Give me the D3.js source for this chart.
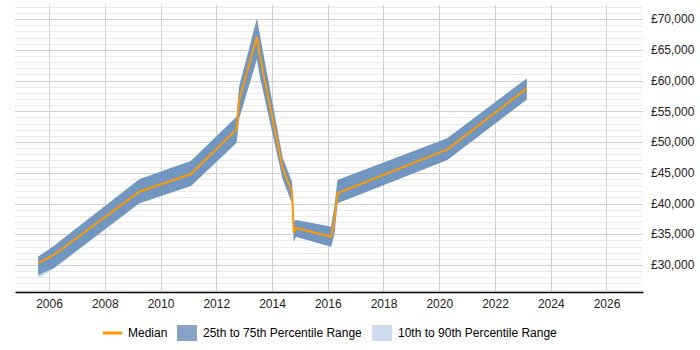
<!DOCTYPE html>
<html>
<head>
<meta charset="utf-8">
<script src="https://cdn.jsdelivr.net/npm/d3@7"></script>
<style>
  body { margin: 0; background: #fff; }
  svg { font-family: "Liberation Sans", Arial, sans-serif; }
</style>
</head>
<body>
<div id="chart"></div>
<script>
// donnees (annee decimale)
const years = [2005.61, 2006.17, 2009.24, 2011.09, 2012.73, 2012.82, 2013.46, 2013.55,
  2014.38, 2014.72, 2014.78, 2014.86, 2016.12, 2016.24, 2016.35, 2020.29, 2023.14];
const p10 = [27830, 29350, 40030, 42850, 49890, 53800, 63500, 61000,
  44000, 40000, 33790, 34600, 32980, 35000, 40030, 47070, 56940];
const p25 = [28370, 29510, 40030, 42850, 49890, 53800, 63500, 61000,
  44000, 40000, 33790, 34600, 32980, 35000, 40030, 47070, 56940];
const median = [30240, 31630, 41920, 44800, 52060, 56830, 67120, 64300,
  45770, 41870, 35200, 36020, 34600, 37320, 41660, 48810, 58730];
const p75 = [31350, 33100, 43940, 46910, 54110, 59000, 70100, 67800,
  47500, 43500, 37040, 37300, 36230, 39500, 43820, 50600, 60360];
const p90 = [31350, 33100, 43940, 46910, 54110, 59000, 70100, 67800,
  47500, 43500, 37040, 37300, 36230, 39500, 43820, 50600, 60360];

const xTicks = [2006, 2008, 2010, 2012, 2014, 2016, 2018, 2020, 2022, 2024, 2026];
const yTicks = [30000, 35000, 40000, 45000, 50000, 55000, 60000, 65000, 70000];
const legendLabels = ["Median", "25th to 75th Percentile Range", "10th to 90th Percentile Range"];

const width = 700, height = 350;
const plot = { left: 15, right: 643, top: 5, bottom: 292 };

const data = years.map((t, i) => ({
  t: t, p10: p10[i], p25: p25[i], med: median[i], p75: p75[i], p90: p90[i]
}));

const svg = d3.select("#chart").append("svg")
  .attr("width", width)
  .attr("height", height);

const x = d3.scaleLinear()
  .domain([2004.78, 2027.31])
  .range([plot.left, plot.right]);

const y = d3.scaleLinear()
  .domain([25600, 72300])
  .range([plot.bottom, plot.top]);

// grille mineure (tous les 1000)
svg.append("g")
  .selectAll("line")
  .data(d3.range(26000, 72001, 1000).filter(v => v % 5000 != 0))
  .join("line")
  .attr("x1", plot.left).attr("x2", plot.right)
  .attr("y1", d => Math.round(y(d)) + 0.5).attr("y2", d => Math.round(y(d)) + 0.5)
  .style("stroke", "#ebebeb")
  .style("stroke-width", 1);

// grille majeure
svg.append("g")
  .selectAll("line")
  .data(yTicks)
  .join("line")
  .attr("x1", plot.left).attr("x2", plot.right)
  .attr("y1", d => Math.round(y(d)) + 0.5).attr("y2", d => Math.round(y(d)) + 0.5)
  .style("stroke", "#d0d0d0")
  .style("stroke-width", 1);

svg.append("g")
  .selectAll("line")
  .data(xTicks)
  .join("line")
  .attr("x1", d => Math.round(x(d)) + 0.5).attr("x2", d => Math.round(x(d)) + 0.5)
  .attr("y1", plot.top).attr("y2", plot.bottom)
  .style("stroke", "#d0d0d0")
  .style("stroke-width", 1);

// bandes
const area = (lo, hi) => d3.area()
  .x(d => x(d.t))
  .y0(d => y(d[lo]))
  .y1(d => y(d[hi]));

svg.append("path")
  .datum(data)
  .attr("d", area("p10", "p90"))
  .style("fill", "#c8daee");

svg.append("path")
  .datum(data)
  .attr("d", area("p25", "p75"))
  .style("fill", "#7196c0");

svg.append("path")
  .datum(data)
  .attr("d", d3.line().x(d => x(d.t)).y(d => y(d.med)))
  .style("fill", "none")
  .style("stroke", "#ff9900")
  .style("stroke-width", 2);

// axe x
svg.append("g")
  .attr("transform", `translate(0,${plot.bottom})`)
  .call(d3.axisBottom(x).tickValues(xTicks).tickFormat(d3.format("d")).tickSize(0).tickPadding(7))
  .call(g => g.select(".domain").style("stroke", "#000").style("stroke-width", 1.5))
  .call(g => g.selectAll("text").style("font-size", "12px").style("fill", "#222")
    .style("font-family", "Liberation Sans, Arial, sans-serif"));

// axe y (a droite)
svg.append("g")
  .selectAll("text")
  .data(yTicks)
  .join("text")
  .attr("x", 651)
  .attr("y", d => y(d))
  .attr("dy", "0.35em")
  .style("font-size", "12px")
  .style("fill", "#222")
  .text(d => "£" + d3.format(",")(d));

// legende
const legend = svg.append("g").attr("transform", "translate(0,333)")
  .style("font-size", "12px");

legend.append("line")
  .attr("x1", 103).attr("x2", 122)
  .attr("y1", 0).attr("y2", 0)
  .style("stroke", "#ff9900").style("stroke-width", 3);
legend.append("text").attr("x", 128).attr("y", 0).attr("dy", "0.35em").text(legendLabels[0]);

legend.append("rect")
  .attr("x", 177).attr("y", -8).attr("width", 20).attr("height", 16)
  .style("fill", "#86a3c4");
legend.append("text").attr("x", 203).attr("y", 0).attr("dy", "0.35em").text(legendLabels[1]);

legend.append("rect")
  .attr("x", 372).attr("y", -8).attr("width", 20).attr("height", 16)
  .style("fill", "#cddcee");
legend.append("text").attr("x", 398).attr("y", 0).attr("dy", "0.35em").text(legendLabels[2]);
</script>
</body>
</html>
